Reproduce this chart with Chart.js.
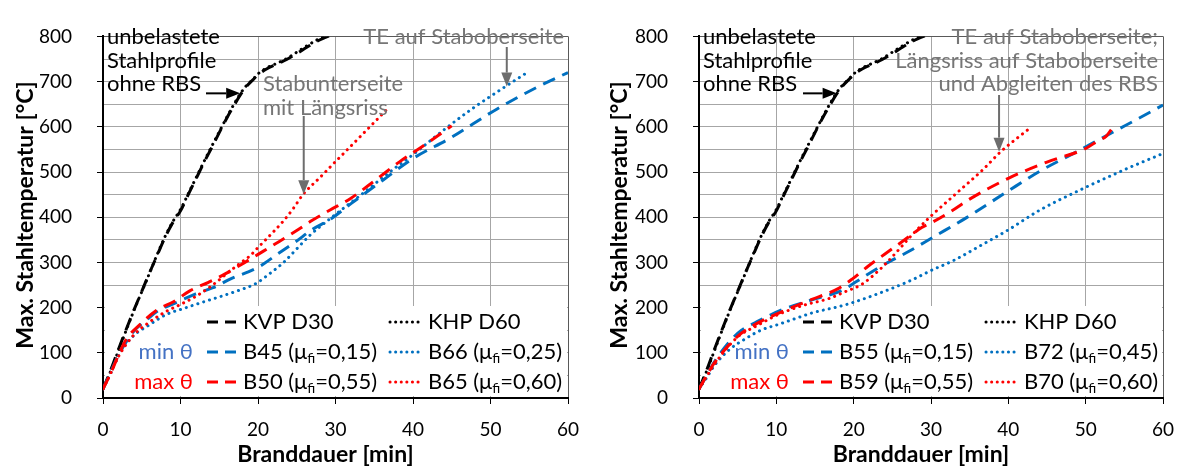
<!DOCTYPE html>
<html>
<head>
<meta charset="utf-8">
<script src="https://cdn.jsdelivr.net/npm/chart.js@4.4.0/dist/chart.umd.min.js"></script>
<style>
  html, body { margin: 0; padding: 0; background: #fff; }
  #wrap { position: relative; width: 1178px; height: 466px; overflow: hidden; background: #fff; }
  #wrap canvas { position: absolute; top: 0; }
</style>
</head>
<body>
<div id="wrap">
  <canvas id="left" width="589" height="466" style="left:0"></canvas>
  <canvas id="right" width="589" height="466" style="left:589px"></canvas>
</div>
<script>
// ---- fire duration [min] and maximum steel temperature [°C] ----
// unloaded steel sections without RBS (same in both panels)
const tUnloaded = [0, 1, 2, 3, 4, 5, 6, 7, 8, 9, 10, 11, 12, 13, 14, 15, 16, 17, 17.7, 18.5, 19.4, 20, 21.1, 22.5, 23.7, 25, 26.3, 27.7, 29.3, 30.5];
const kvpD30    = [20, 62, 108, 152, 195, 236, 277, 316, 355, 388, 414, 450, 485, 520, 553, 587, 620, 650, 670, 689, 705, 715, 728, 739, 749, 762, 776, 790, 802, 810];
const khpD60    = [20, 60, 105, 150, 194, 235, 276, 318, 357, 390, 417, 452, 487, 522, 556, 589, 622, 653, 673, 691, 706, 717, 730, 741, 751, 765, 779, 793, 805, 814];

// left panel
const tB45 = [0, 1, 2, 4, 5.6, 7, 9.3, 11.9, 14.2, 16.4, 20, 22.4, 24.8, 27.1, 29.3, 32, 36.2, 40, 44.8, 50.8, 56.4, 60];
const b45  = [20, 58, 95, 148, 172, 192, 210, 230, 244, 263, 289, 317, 345, 374, 395, 430, 483, 530, 575, 639, 691, 720];
const tB66 = [0, 1, 2.2, 3.9, 6.1, 8.2, 10.4, 12.5, 14.7, 17, 19.8, 21.5, 23.3, 25, 26.7, 29.7, 34, 37, 40.5, 43, 47.4, 52.1, 55];
const b66  = [20, 55, 100, 137, 163, 185, 198, 210, 222, 235, 254, 275, 300, 330, 360, 402, 459, 500, 545, 580, 637, 691, 723];
const tB50 = [0, 1, 2, 3, 4.8, 7, 9.1, 11.2, 13.6, 15.7, 18.2, 20.7, 22.8, 25.4, 26.9, 29.3, 31.9, 35, 38.3, 41.5, 45];
const b50  = [20, 55, 95, 130, 163, 195, 213, 237, 256, 274, 299, 325, 347, 375, 392, 416, 441, 480, 523, 560, 602];
const tB65 = [0, 1, 2, 4, 6, 8, 10, 12, 14, 16.4, 18, 19, 20, 21.1, 22, 23.3, 24.5, 25.8, 28, 30, 33, 37];
const b65  = [20, 55, 92, 140, 168, 190, 207, 225, 248, 281, 302, 315, 333, 352, 368, 392, 418, 450, 488, 523, 575, 645];

// right panel
const tB55 = [0, 1, 2, 3.9, 5.5, 7.3, 10.7, 14.6, 18.5, 20.2, 23.6, 27.1, 30.3, 34.6, 39.8, 44.1, 49.2, 53.5, 57, 60];
const b55  = [20, 50, 80, 124, 150, 167, 195, 217, 238, 256, 292, 324, 356, 399, 456, 502, 548, 588, 620, 648];
const tB72 = [0, 1, 2, 4, 6, 8, 10.3, 12.5, 14.6, 18.9, 23.2, 27.5, 30, 33, 36.7, 40, 44, 49, 55, 60];
const b72  = [20, 45, 72, 108, 131, 150, 163, 176, 188, 206, 231, 261, 282, 305, 340, 372, 415, 458, 505, 541];
const tB59 = [0, 1, 2, 5.1, 7.5, 10.3, 14.6, 18, 19.8, 21.9, 24, 26.2, 28.8, 30.3, 32.5, 35, 40, 45, 50, 51.4, 52.7, 53.3];
const b59  = [20, 50, 78, 138, 165, 188, 218, 242, 263, 292, 318, 345, 377, 390, 412, 440, 486, 522, 552, 567, 580, 594];
const tB70 = [0, 1, 2, 5, 7.5, 10.3, 13.5, 16.8, 18.9, 21.1, 23.3, 25.4, 27.5, 29.9, 33.3, 36.7, 38.9, 43];
const b70  = [20, 48, 75, 135, 160, 185, 205, 220, 235, 252, 283, 320, 360, 401, 453, 505, 543, 600];

// axis ticks
const xTicks = [0, 10, 20, 30, 40, 50, 60];
const yTicks = [0, 100, 200, 300, 400, 500, 600, 700, 800];

const FONT = 'Lato, "Open Sans", sans-serif';
const BLUE = '#0070C0', RED = '#FF0000', BLACK = '#000000', GRAY = '#767676';
const DASH = [13, 8], DOT = [0.1, 6];

function series(name, mu, t, T, color, dotted) {
  return { name, mu, t, T, color, dotted };
}

function toDataset(s, i, n) {
  return {
    label: s.name,
    data: s.t.map((x, k) => ({ x, y: s.T[k] })),
    borderColor: s.color,
    borderWidth: 3,
    borderDash: s.dotted ? DOT : DASH,
    borderCapStyle: s.dotted ? 'round' : 'butt',
    pointRadius: 0,
    fill: false,
    cubicInterpolationMode: 'monotone',
    order: n - i
  };
}

function drawArrow(ctx, x1, y1, x2, y2, color) {
  const ang = Math.atan2(y2 - y1, x2 - x1);
  const hl = 14, hw = 5.5;
  const bx = x2 - hl * Math.cos(ang), by = y2 - hl * Math.sin(ang);
  ctx.save();
  ctx.strokeStyle = color; ctx.fillStyle = color; ctx.lineWidth = 2; ctx.setLineDash([]);
  ctx.beginPath(); ctx.moveTo(x1, y1); ctx.lineTo(bx, by); ctx.stroke();
  ctx.beginPath();
  ctx.moveTo(x2, y2);
  ctx.lineTo(bx + hw * Math.sin(ang), by - hw * Math.cos(ang));
  ctx.lineTo(bx - hw * Math.sin(ang), by + hw * Math.cos(ang));
  ctx.closePath(); ctx.fill();
  ctx.restore();
}

// legend text with subscript "fi" on μ
function drawLegendLabel(ctx, s, x, y) {
  ctx.fillStyle = '#000';
  ctx.textAlign = 'left'; ctx.textBaseline = 'middle';
  ctx.font = '22px ' + FONT;
  if (!s.mu) { ctx.fillText(s.name, x, y); return; }
  const pre = s.name + ' (μ';
  ctx.fillText(pre, x, y);
  let cx = x + ctx.measureText(pre).width;
  ctx.font = '14px ' + FONT;
  ctx.fillText('fi', cx, y + 6);
  cx += ctx.measureText('fi').width;
  ctx.font = '22px ' + FONT;
  ctx.fillText('=' + s.mu + ')', cx, y);
}

const decor = {
  id: 'decor',
  beforeDatasetsDraw(chart) {
    const a = chart.chartArea, ctx = chart.ctx;
    ctx.save();
    ctx.fillStyle = '#fff';
    ctx.fillRect(a.left + 2, a.bottom - 92, a.right - a.left - 3, 90);
    ctx.restore();
  },
  afterDatasetsDraw(chart, args, o) {
    const a = chart.chartArea, ctx = chart.ctx;
    const xs = chart.scales.x, ys = chart.scales.y;
    const L = a.left;
    ctx.save();
    // legend
    const rows = [a.bottom - 76, a.bottom - 46, a.bottom - 16];
    const cols = [{ s: L + 104, e: L + 134, tx: L + 140 }, { s: L + 287, e: L + 319, tx: L + 325 }];
    o.series.forEach((s, i) => {
      const r = Math.floor(i / 2), c = cols[i % 2], y = rows[r];
      ctx.save();
      ctx.strokeStyle = s.color; ctx.lineWidth = 3;
      ctx.setLineDash(s.dotted ? [0.1, 5.5] : [11, 7]);
      ctx.lineCap = s.dotted ? 'round' : 'butt';
      ctx.beginPath(); ctx.moveTo(c.s, y); ctx.lineTo(c.e, y); ctx.stroke();
      ctx.restore();
      drawLegendLabel(ctx, s, c.tx, y);
    });
    ctx.font = '22px ' + FONT; ctx.textAlign = 'right'; ctx.textBaseline = 'middle';
    ctx.fillStyle = '#4472C4'; ctx.fillText('min θ', L + 90, rows[1]);
    ctx.fillStyle = '#FF0000'; ctx.fillText('max θ', L + 90, rows[2]);

    // notes
    o.notes.forEach(n => {
      ctx.fillStyle = n.color; ctx.textAlign = n.align; ctx.textBaseline = 'middle';
      ctx.font = '22px ' + FONT;
      n.lines.forEach((ln, k) => ctx.fillText(ln, n.x(a), n.y + k * 23.7));
    });
    o.arrows.forEach(ar => {
      const tx = xs.getPixelForValue(ar.tip[0]), ty = ys.getPixelForValue(ar.tip[1]);
      if (ar.dir === 'down') drawArrow(ctx, tx, ar.start, tx, ty, ar.color);
      else drawArrow(ctx, ar.start(a), ty, tx, ty, ar.color);
    });
    ctx.restore();
  },
  afterDraw(chart, args, o) {
    const a = chart.chartArea, ctx = chart.ctx;
    ctx.save();
    ctx.fillStyle = '#000';
    ctx.font = 'bold 23px ' + FONT;
    ctx.textAlign = 'center'; ctx.textBaseline = 'middle';
    ctx.fillText('Branddauer [min]', (a.left + a.right) / 2 - 10, 455);
    ctx.translate(o.yTitleX, 215);
    ctx.rotate(-Math.PI / 2);
    ctx.fillText('Max. Stahltemperatur [°C]', 0, 0);
    ctx.restore();
  }
};

function makeChart(id, yWidth, padRight, yTitleX, list, notes, arrows) {
  const n = list.length;
  return new Chart(document.getElementById(id), {
    type: 'line',
    data: { datasets: list.map((s, i) => toDataset(s, i, n)) },
    plugins: [decor],
    options: {
      responsive: false,
      animation: false,
      events: [],
      layout: { padding: { top: 24, right: padRight, left: 0, bottom: 0 } },
      plugins: {
        legend: { display: false },
        tooltip: { enabled: false },
        decor: { series: list, notes, arrows, yTitleX }
      },
      scales: {
        x: {
          type: 'linear', min: xTicks[0], max: xTicks[xTicks.length - 1],
          afterBuildTicks: s => { s.ticks = xTicks.map(v => ({ value: v })); },
          // tall line box pushes the labels down below the tick marks
          ticks: { font: { family: FONT, size: 19, lineHeight: 2.42 }, color: '#000', padding: 3, maxRotation: 0, autoSkip: false },
          grid: {
            color: c => (c.tick && c.tick.value === 60) ? '#595959' : '#a6a6a6',
            lineWidth: 1, tickLength: 6, tickColor: '#000'
          },
          border: { color: '#000', width: 2 },
          afterFit: s => { s.height = 68; }
        },
        y: {
          type: 'linear', min: yTicks[0], max: yTicks[yTicks.length - 1],
          ticks: {
            stepSize: 50, autoSkip: false,
            callback: v => (yTicks.includes(v) ? String(v) : ''),
            font: { family: FONT, size: 19 }, color: '#000', padding: 25
          },
          grid: {
            color: c => (c.tick && c.tick.value === 800) ? '#595959' : '#a6a6a6',
            lineWidth: 1, tickLength: 6,
            tickColor: c => (c.tick && yTicks.includes(c.tick.value)) ? '#000' : 'rgba(0,0,0,0)'
          },
          border: { color: '#000', width: 2 },
          afterFit: s => { s.width = yWidth; }
        }
      }
    }
  });
}

const unloadedNote = { lines: ['unbelastete', 'Stahlprofile', 'ohne RBS'], x: a => a.left + 4, y: 37, align: 'left', color: BLACK };

function build() {
  makeChart('left', 103, 21, 26, [
    series('KVP D30', null, tUnloaded, kvpD30, BLACK, false),
    series('KHP D60', null, tUnloaded, khpD60, BLACK, true),
    series('B45', '0,15', tB45, b45, BLUE, false),
    series('B66', '0,25', tB66, b66, BLUE, true),
    series('B50', '0,55', tB50, b50, RED, false),
    series('B65', '0,60', tB65, b65, RED, true)
  ], [
    unloadedNote,
    { lines: ['TE auf Staboberseite'], x: a => a.right - 4, y: 37, align: 'right', color: GRAY },
    { lines: ['Stabunterseite', 'mit Längsriss'], x: a => a.left + 160, y: 84, align: 'left', color: GRAY }
  ], [
    { tip: [17.7, 674], start: a => a.left + 103, dir: 'right', color: BLACK },
    { tip: [52.1, 689], start: 47, dir: 'down', color: '#6d6d6d' },
    { tip: [25.9, 451], start: 116, dir: 'down', color: '#6d6d6d' }
  ]);

  makeChart('right', 110, 15, 31, [
    series('KVP D30', null, tUnloaded, kvpD30, BLACK, false),
    series('KHP D60', null, tUnloaded, khpD60, BLACK, true),
    series('B55', '0,15', tB55, b55, BLUE, false),
    series('B72', '0,45', tB72, b72, BLUE, true),
    series('B59', '0,55', tB59, b59, RED, false),
    series('B70', '0,60', tB70, b70, RED, true)
  ], [
    unloadedNote,
    { lines: ['TE auf Staboberseite;', 'Längsriss auf Staboberseite', 'und Abgleiten des RBS'], x: a => a.right - 5, y: 37, align: 'right', color: GRAY }
  ], [
    { tip: [17.8, 674], start: a => a.left + 104, dir: 'right', color: BLACK },
    { tip: [38.8, 545], start: 95, dir: 'down', color: '#6d6d6d' }
  ]);
}

Promise.all([
  document.fonts.load('22px Lato'),
  document.fonts.load('bold 23px Lato')
]).then(build, build);
</script>
</body>
</html>
